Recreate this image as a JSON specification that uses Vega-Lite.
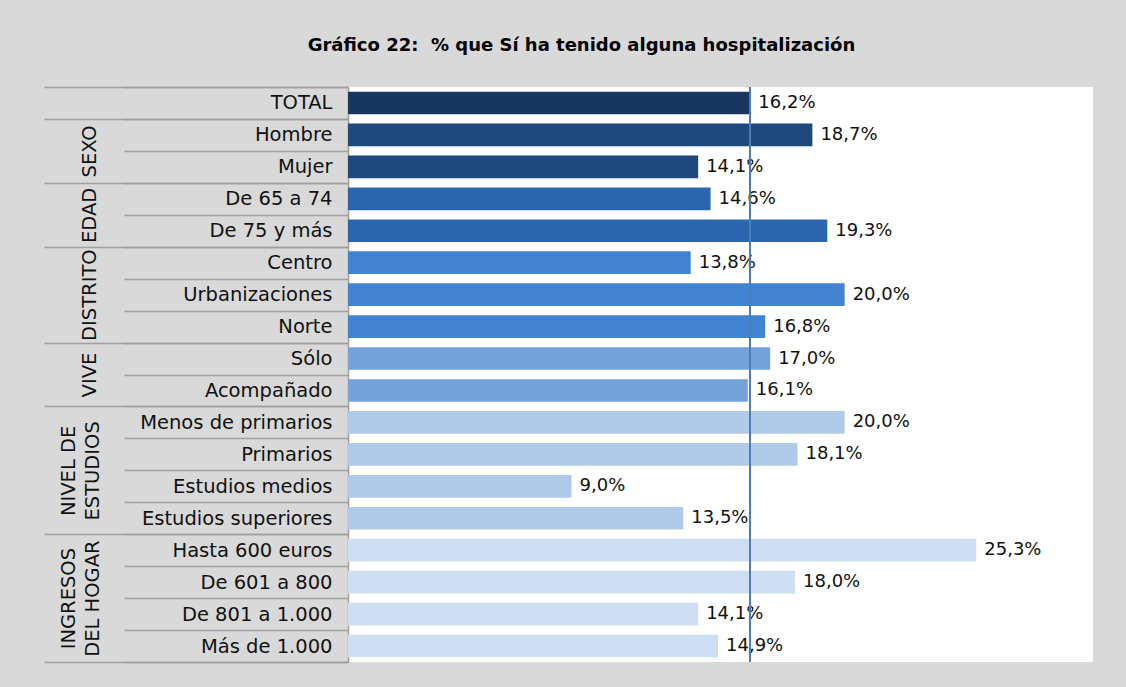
{
  "$schema": "https://vega.github.io/schema/vega-lite/v6.json",
  "width": 745,
  "height": 575,
  "autosize": {"type": "none"},
  "padding": {"left": 348, "top": 87, "right": 33, "bottom": 25},
  "background": "#d9d9d9",
  "title": {
    "text": "Gráfico 22:\u00a0 % que Sí ha tenido alguna hospitalización",
    "font": "DejaVu Sans",
    "fontSize": 18,
    "fontWeight": "bold",
    "color": "#000000",
    "anchor": "middle",
    "dx": -139,
    "offset": 8,
    "baseline": "alphabetic"
  },
  "data": {
    "values": [
      {"categoria": "TOTAL", "grupo": "TOTAL", "v": 0.162},
      {"categoria": "Hombre", "grupo": "SEXO", "v": 0.187},
      {"categoria": "Mujer", "grupo": "SEXO", "v": 0.141},
      {"categoria": "De 65 a 74", "grupo": "EDAD", "v": 0.146},
      {"categoria": "De 75 y más", "grupo": "EDAD", "v": 0.193},
      {"categoria": "Centro", "grupo": "DISTRITO", "v": 0.138},
      {"categoria": "Urbanizaciones", "grupo": "DISTRITO", "v": 0.200},
      {"categoria": "Norte", "grupo": "DISTRITO", "v": 0.168},
      {"categoria": "Sólo", "grupo": "VIVE", "v": 0.170},
      {"categoria": "Acompañado", "grupo": "VIVE", "v": 0.161},
      {"categoria": "Menos de primarios", "grupo": "NIVEL DE ESTUDIOS", "v": 0.200},
      {"categoria": "Primarios", "grupo": "NIVEL DE ESTUDIOS", "v": 0.181},
      {"categoria": "Estudios medios", "grupo": "NIVEL DE ESTUDIOS", "v": 0.090},
      {"categoria": "Estudios superiores", "grupo": "NIVEL DE ESTUDIOS", "v": 0.135},
      {"categoria": "Hasta 600 euros", "grupo": "INGRESOS DEL HOGAR", "v": 0.253},
      {"categoria": "De 601 a 800", "grupo": "INGRESOS DEL HOGAR", "v": 0.180},
      {"categoria": "De 801 a 1.000", "grupo": "INGRESOS DEL HOGAR", "v": 0.141},
      {"categoria": "Más de 1.000", "grupo": "INGRESOS DEL HOGAR", "v": 0.149}
    ]
  },
  "layer": [
    {
      "mark": {"type": "bar", "height": {"band": 0.71}},
      "encoding": {
        "y": {
          "field": "categoria",
          "type": "nominal",
          "sort": null,
          "scale": {"paddingInner": 0, "paddingOuter": 0},
          "axis": {
            "orient": "left",
            "title": null,
            "domain": true,
            "domainColor": "#a0a0a0",
            "domainWidth": 1.5,
            "tickBand": "extent",
            "tickSize": 224,
            "tickColor": "#a0a0a0",
            "tickWidth": 1.5,
            "labelPadding": -208,
            "labelFont": "DejaVu Sans",
            "labelFontSize": 19.5,
            "labelColor": "#111111",
            "labelLimit": 300,
            "labelOverlap": false
          }
        },
        "x": {
          "field": "v",
          "type": "quantitative",
          "scale": {"domain": [0, 0.3], "nice": false, "zero": true},
          "axis": null
        },
        "color": {
          "field": "grupo",
          "type": "nominal",
          "legend": null,
          "scale": {
            "domain": ["TOTAL", "SEXO", "EDAD", "DISTRITO", "VIVE", "NIVEL DE ESTUDIOS", "INGRESOS DEL HOGAR"],
            "range": ["#17375e", "#1f497d", "#2a65ad", "#4282d0", "#74a3db", "#b0cbe9", "#cedef2"]
          }
        }
      }
    },
    {
      "mark": {"type": "text", "align": "left", "baseline": "middle", "dx": 8, "font": "DejaVu Sans", "fontSize": 18, "color": "#111111"},
      "encoding": {
        "y": {
          "field": "categoria",
          "type": "nominal",
          "sort": null,
          "axis": {
            "orient": "left",
            "title": null,
            "domain": false,
            "tickBand": "extent",
            "tickSize": 304,
            "tickWidth": 1.5,
            "tickColor": {
              "condition": {
                "test": "!isValid(datum.value) || indexof(['TOTAL','Mujer','De 75 y más','Norte','Acompañado','Estudios superiores','Más de 1.000'], datum.value) >= 0",
                "value": "#a0a0a0"
              },
              "value": "transparent"
            },
            "labelExpr": "datum.value == 'Hombre' ? 'SEXO' : datum.value == 'De 65 a 74' ? 'EDAD' : datum.value == 'Urbanizaciones' ? 'DISTRITO' : datum.value == 'Sólo' ? 'VIVE' : datum.value == 'Primarios' ? ['NIVEL DE','ESTUDIOS'] : datum.value == 'De 601 a 800' ? ['INGRESOS','DEL HOGAR'] : ''",
            "labelAngle": 270,
            "labelAlign": "center",
            "labelBaseline": "bottom",
            "labelPadding": {
              "condition": {"test": "datum.value == 'Primarios' || datum.value == 'De 601 a 800'", "value": -34},
              "value": -55
            },
            "labelOffset": {
              "condition": {"test": "datum.value == 'Urbanizaciones'", "value": 0},
              "value": 16
            },
            "labelFont": "DejaVu Sans",
            "labelFontSize": 19.5,
            "labelLineHeight": 24,
            "labelColor": "#111111",
            "labelLimit": 300,
            "labelOverlap": false
          }
        },
        "x": {"field": "v", "type": "quantitative"},
        "text": {"field": "v", "type": "quantitative", "format": ".1%"}
      }
    },
    {
      "mark": {"type": "rule", "color": "#4a7ebb", "strokeWidth": 1.2},
      "encoding": {"x": {"datum": 0.162, "type": "quantitative"}}
    }
  ],
  "resolve": {"axis": {"y": "independent"}},
  "config": {
    "view": {"fill": "#ffffff", "stroke": null},
    "locale": {
      "number": {"decimal": ",", "thousands": ".", "grouping": [3], "currency": ["", " €"]}
    }
  }
}
